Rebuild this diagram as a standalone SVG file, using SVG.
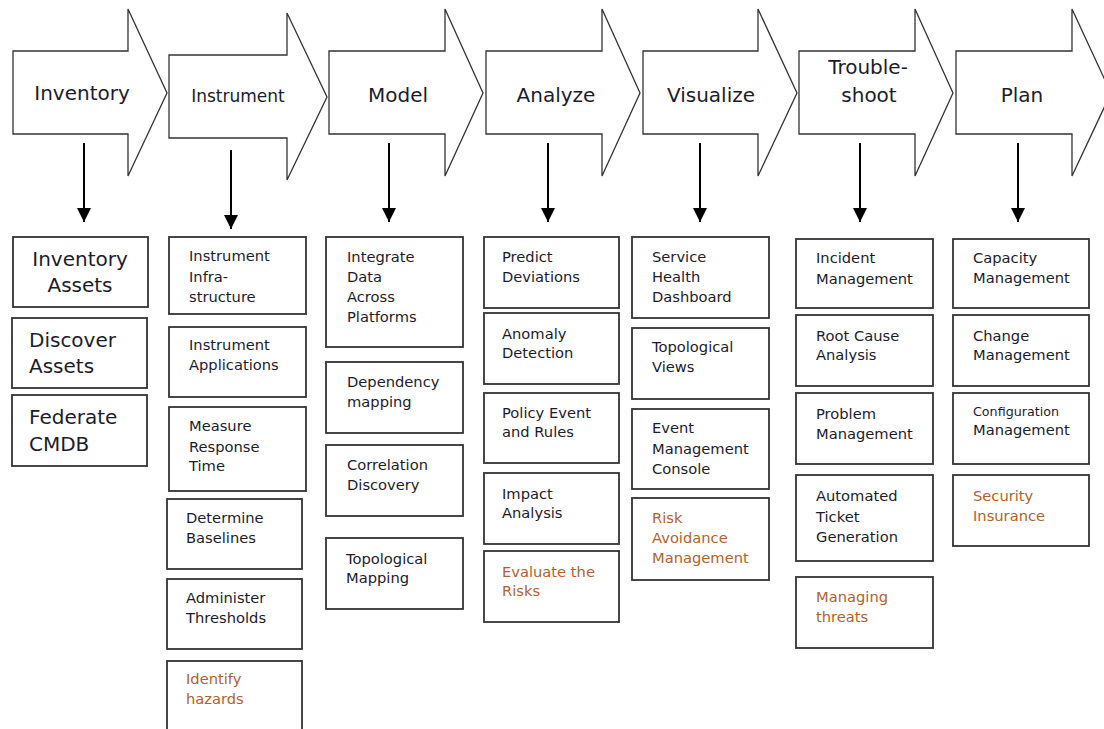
<svg xmlns="http://www.w3.org/2000/svg" width="1104" height="729" viewBox="0 0 1104 729">
<defs>
<style>
.stage{fill:#fff;stroke:#333;stroke-width:1.3}
.box{fill:#fff;stroke:#333;stroke-width:1.8}
.t{font-family:"DejaVu Sans",Verdana,sans-serif;font-size:14.7px;fill:#1c1c2c}
.big{font-family:"DejaVu Sans",Verdana,sans-serif;font-size:20px;fill:#1c1c2c}
.hd{font-family:"DejaVu Sans",Verdana,sans-serif;font-size:20px;fill:#1c1c2c;text-anchor:middle}
.hds{font-family:"DejaVu Sans",Verdana,sans-serif;font-size:17px;fill:#1c1c2c;text-anchor:middle}
.br{fill:#b3622d}
.sm{font-size:12.7px}
.conn{stroke:#000;stroke-width:2;fill:none}
</style>
<marker id="ah" markerUnits="userSpaceOnUse" markerWidth="14" markerHeight="14" refX="14" refY="7" orient="auto">
<path d="M0,0 L14,7 L0,14 Z" fill="#000"/>
</marker>
</defs>
<rect width="1104" height="729" fill="#fff"/>

<g id="stage-inventory">
<path class="stage" d="M13,51 H128 V9 L167,93 L128,176 V134 H13 Z"/>
<text class="hd" x="82" y="100">Inventory</text>
</g>
<g id="stage-instrument">
<path class="stage" d="M169,55 H287 V13 L327,97 L287,180 V138 H169 Z"/>
<text class="hds" x="238" y="102">Instrument</text>
</g>
<g id="stage-model">
<path class="stage" d="M329,51 H445 V9 L483,93 L445,176 V134 H329 Z"/>
<text class="hd" x="398" y="102">Model</text>
</g>
<g id="stage-analyze">
<path class="stage" d="M486,51 H602 V9 L640,93 L602,176 V134 H486 Z"/>
<text class="hd" x="556" y="102">Analyze</text>
</g>
<g id="stage-visualize">
<path class="stage" d="M643,51 H758 V9 L797,93 L758,176 V134 H643 Z"/>
<text class="hd" x="711" y="102">Visualize</text>
</g>
<g id="stage-troubleshoot">
<path class="stage" d="M799,51 H915 V9 L953,93 L915,176 V134 H799 Z"/>
<text class="hd" x="868" y="74">Trouble-</text>
<text class="hd" x="869" y="102">shoot</text>
</g>
<g id="stage-plan">
<path class="stage" d="M956,51 H1072 V9 L1111,93 L1072,176 V134 H956 Z"/>
<text class="hd" x="1022" y="102">Plan</text>
</g>

<g id="connectors">
<line class="conn" x1="84" y1="143" x2="84" y2="222" marker-end="url(#ah)"/>
<line class="conn" x1="231" y1="150" x2="231" y2="229" marker-end="url(#ah)"/>
<line class="conn" x1="389" y1="143" x2="389" y2="222" marker-end="url(#ah)"/>
<line class="conn" x1="548" y1="143" x2="548" y2="222" marker-end="url(#ah)"/>
<line class="conn" x1="700" y1="143" x2="700" y2="222" marker-end="url(#ah)"/>
<line class="conn" x1="860" y1="143" x2="860" y2="222" marker-end="url(#ah)"/>
<line class="conn" x1="1018" y1="143" x2="1018" y2="222" marker-end="url(#ah)"/>
</g>

<!-- Inventory column -->
<g id="inventory-assets">
<rect class="box" x="13" y="237" width="135" height="70"/>
<text class="big" x="80" y="266" text-anchor="middle">Inventory</text>
<text class="big" x="80" y="292" text-anchor="middle">Assets</text>
</g>
<g id="discover-assets">
<rect class="box" x="12" y="318" width="135" height="70"/>
<text class="big" x="29" y="347">Discover</text>
<text class="big" x="29" y="373">Assets</text>
</g>
<g id="federate-cmdb">
<rect class="box" x="12" y="395" width="135" height="71"/>
<text class="big" x="29" y="424">Federate</text>
<text class="big" x="29" y="451">CMDB</text>
</g>

<!-- Instrument column -->
<g id="instrument-infrastructure">
<rect class="box" x="169" y="237" width="137" height="77"/>
<text class="t" x="189" y="261">Instrument</text>
<text class="t" x="189" y="282">Infra-</text>
<text class="t" x="189" y="302">structure</text>
</g>
<g id="instrument-applications">
<rect class="box" x="169" y="327" width="137" height="70"/>
<text class="t" x="189" y="350">Instrument</text>
<text class="t" x="189" y="370">Applications</text>
</g>
<g id="measure-response-time">
<rect class="box" x="169" y="407" width="137" height="84"/>
<text class="t" x="189" y="431">Measure</text>
<text class="t" x="189" y="452">Response</text>
<text class="t" x="189" y="471">Time</text>
</g>
<g id="determine-baselines">
<rect class="box" x="167" y="499" width="135" height="70"/>
<text class="t" x="186" y="523">Determine</text>
<text class="t" x="186" y="543">Baselines</text>
</g>
<g id="administer-thresholds">
<rect class="box" x="167" y="579" width="135" height="70"/>
<text class="t" x="186" y="603">Administer</text>
<text class="t" x="186" y="623">Thresholds</text>
</g>
<g id="identify-hazards">
<rect class="box" x="167" y="661" width="135" height="80"/>
<text class="t br" x="186" y="684">Identify</text>
<text class="t br" x="186" y="704">hazards</text>
</g>

<!-- Model column -->
<g id="integrate-data">
<rect class="box" x="326" y="237" width="137" height="110"/>
<text class="t" x="347" y="262">Integrate</text>
<text class="t" x="347" y="282">Data</text>
<text class="t" x="347" y="302">Across</text>
<text class="t" x="347" y="322">Platforms</text>
</g>
<g id="dependency-mapping">
<rect class="box" x="326" y="362" width="137" height="71"/>
<text class="t" x="347" y="387">Dependency</text>
<text class="t" x="347" y="407">mapping</text>
</g>
<g id="correlation-discovery">
<rect class="box" x="326" y="445" width="137" height="71"/>
<text class="t" x="347" y="470">Correlation</text>
<text class="t" x="347" y="490">Discovery</text>
</g>
<g id="topological-mapping">
<rect class="box" x="326" y="538" width="137" height="71"/>
<text class="t" x="346" y="564">Topological</text>
<text class="t" x="346" y="583">Mapping</text>
</g>

<!-- Analyze column -->
<g id="predict-deviations">
<rect class="box" x="484" y="237" width="135" height="71"/>
<text class="t" x="502" y="262">Predict</text>
<text class="t" x="502" y="282">Deviations</text>
</g>
<g id="anomaly-detection">
<rect class="box" x="484" y="313" width="135" height="71"/>
<text class="t" x="502" y="339">Anomaly</text>
<text class="t" x="502" y="358">Detection</text>
</g>
<g id="policy-event-rules">
<rect class="box" x="484" y="393" width="135" height="70"/>
<text class="t" x="502" y="418">Policy Event</text>
<text class="t" x="502" y="437">and Rules</text>
</g>
<g id="impact-analysis">
<rect class="box" x="484" y="473" width="135" height="71"/>
<text class="t" x="502" y="499">Impact</text>
<text class="t" x="502" y="518">Analysis</text>
</g>
<g id="evaluate-risks">
<rect class="box" x="484" y="551" width="135" height="71"/>
<text class="t br" x="502" y="577">Evaluate the</text>
<text class="t br" x="502" y="596">Risks</text>
</g>

<!-- Visualize column -->
<g id="service-health-dashboard">
<rect class="box" x="632" y="237" width="137" height="81"/>
<text class="t" x="652" y="262">Service</text>
<text class="t" x="652" y="282">Health</text>
<text class="t" x="652" y="302">Dashboard</text>
</g>
<g id="topological-views">
<rect class="box" x="632" y="328" width="137" height="71"/>
<text class="t" x="652" y="352">Topological</text>
<text class="t" x="652" y="372">Views</text>
</g>
<g id="event-management-console">
<rect class="box" x="632" y="409" width="137" height="80"/>
<text class="t" x="652" y="433">Event</text>
<text class="t" x="652" y="454">Management</text>
<text class="t" x="652" y="474">Console</text>
</g>
<g id="risk-avoidance-management">
<rect class="box" x="632" y="498" width="137" height="82"/>
<text class="t br" x="652" y="523">Risk</text>
<text class="t br" x="652" y="543">Avoidance</text>
<text class="t br" x="652" y="563">Management</text>
</g>

<!-- Troubleshoot column -->
<g id="incident-management">
<rect class="box" x="796" y="239" width="137" height="69"/>
<text class="t" x="816" y="263">Incident</text>
<text class="t" x="816" y="284">Management</text>
</g>
<g id="root-cause-analysis">
<rect class="box" x="796" y="315" width="137" height="71"/>
<text class="t" x="816" y="341">Root Cause</text>
<text class="t" x="816" y="360">Analysis</text>
</g>
<g id="problem-management">
<rect class="box" x="796" y="393" width="137" height="71"/>
<text class="t" x="816" y="419">Problem</text>
<text class="t" x="816" y="439">Management</text>
</g>
<g id="automated-ticket-generation">
<rect class="box" x="796" y="475" width="137" height="86"/>
<text class="t" x="816" y="501">Automated</text>
<text class="t" x="816" y="522">Ticket</text>
<text class="t" x="816" y="542">Generation</text>
</g>
<g id="managing-threats">
<rect class="box" x="796" y="577" width="137" height="71"/>
<text class="t br" x="816" y="602">Managing</text>
<text class="t br" x="816" y="622">threats</text>
</g>

<!-- Plan column -->
<g id="capacity-management">
<rect class="box" x="953" y="239" width="136" height="69"/>
<text class="t" x="973" y="263">Capacity</text>
<text class="t" x="973" y="283">Management</text>
</g>
<g id="change-management">
<rect class="box" x="953" y="315" width="136" height="71"/>
<text class="t" x="973" y="341">Change</text>
<text class="t" x="973" y="360">Management</text>
</g>
<g id="configuration-management">
<rect class="box" x="953" y="393" width="136" height="71"/>
<text class="t sm" x="973" y="416">Configuration</text>
<text class="t" x="973" y="435">Management</text>
</g>
<g id="security-insurance">
<rect class="box" x="953" y="475" width="136" height="71"/>
<text class="t br" x="973" y="501">Security</text>
<text class="t br" x="973" y="521">Insurance</text>
</g>
</svg>
